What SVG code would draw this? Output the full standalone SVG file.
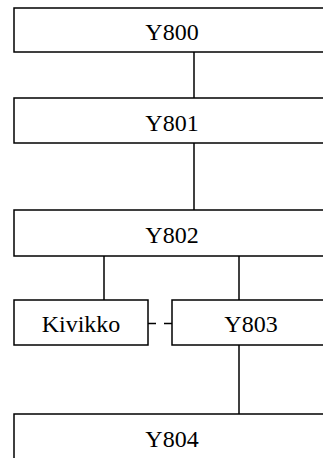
<svg xmlns="http://www.w3.org/2000/svg" width="323" height="458" viewBox="0 0 323 458">
<style>
.box{fill:#fff;stroke:#000;stroke-width:1.5}
.lbl{font-family:"Liberation Serif","DejaVu Serif",serif;font-size:24px;fill:#000;text-anchor:middle}
.ln{stroke:#000;stroke-width:1.5;fill:none}
.dash{stroke:#000;stroke-width:1.5;fill:none;stroke-dasharray:8 8}
</style>
<rect width="323" height="458" fill="#fff"/>
<g id="connectors">
<line class="ln" x1="194" y1="52" x2="194" y2="98"/>
<line class="ln" x1="194" y1="143" x2="194" y2="210"/>
<line class="ln" x1="104" y1="256" x2="104" y2="300"/>
<line class="ln" x1="239" y1="256" x2="239" y2="300"/>
<line class="dash" x1="148" y1="323.5" x2="172" y2="323.5"/>
<line class="ln" x1="239" y1="345" x2="239" y2="414"/>
</g>
<g id="Y800"><rect class="box" x="14" y="8" width="316" height="44"/><text class="lbl" x="172" y="40">Y800</text></g>
<g id="Y801"><rect class="box" x="14" y="98" width="316" height="45"/><text class="lbl" x="172" y="130.5">Y801</text></g>
<g id="Y802"><rect class="box" x="14" y="210" width="316" height="46"/><text class="lbl" x="172" y="243">Y802</text></g>
<g id="Kivikko"><rect class="box" x="14" y="300" width="134" height="45"/><text class="lbl" x="81" y="332">Kivikko</text></g>
<g id="Y803"><rect class="box" x="172" y="300" width="158" height="45"/><text class="lbl" x="251" y="332">Y803</text></g>
<g id="Y804"><rect class="box" x="14" y="414" width="316" height="50"/><text class="lbl" x="172" y="447">Y804</text></g>
</svg>
